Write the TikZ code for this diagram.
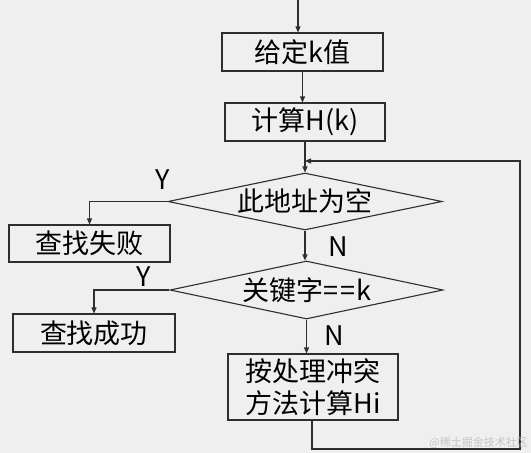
\documentclass[tikz,border=0pt]{standalone}
\usepackage{fontspec}
\setmainfont{Noto Sans CJK SC}
\usetikzlibrary{shapes.geometric,arrows.meta,calc}
\definecolor{bg}{HTML}{EFEFEF}
\definecolor{ln}{HTML}{2E2E2E}
\definecolor{wm}{HTML}{C4C4C4}
\tikzset{
  box/.style={draw=ln, line width=1.1pt, fill=bg, inner sep=0pt, align=center, font=\fontsize{27}{31}\selectfont},
  dec/.style={diamond, draw=ln, line width=1.1pt, inner sep=0pt, aspect=4.8, font=\fontsize{27}{31}\selectfont},
  conn/.style={draw=ln, line width=1.1pt},
  arr/.style={conn, -{Triangle[length=6pt,width=5pt]}},
  lab/.style={font=\fontsize{27}{31}\selectfont, inner sep=0pt},
}
\begin{document}
\begin{tikzpicture}[x=1pt,y=-1pt]
\fill[bg] (0,0) rectangle (531,453);
\useasboundingbox (0,0) rectangle (531,453);
\coordinate (start) at (298,0);
\node[box, minimum width=161pt, minimum height=38pt] (b1) at (302.5,52) {给定k值};
\node[box, minimum width=160pt, minimum height=38pt] (b2) at (305,122) {计算H(k)};
\node[dec, minimum width=274pt, minimum height=57pt] (d1) at (305,201.5) {此地址为空};
\node[box, minimum width=161pt, minimum height=37pt] (fail) at (89.5,243.5) {查找失败};
\node[dec, minimum width=273pt, minimum height=58pt] (d2) at (306.5,290) {关键字=\kern2pt=\kern1pt k};
\node[box, minimum width=162pt, minimum height=38pt] (succ) at (94,333) {查找成功};
\node[box, minimum width=170pt, minimum height=66pt, font=\fontsize{27}{32}\selectfont] (hi) at (313,387) {按处理冲突\\方法计算Hi};

\draw[arr] (start) -- (start |- b1.north);
\draw[arr] (b1.south) -- (b1.south |- b2.north);
\draw[arr] (b2.south) -- (d1.north);
\draw[arr] (d1.south) -- (d1.south |- d2.north);
\draw[arr] (d2.south) -- (d2.south |- hi.north);
\draw[arr] (d1.west) -| (fail.north);
\draw[arr] (d2.west) -| (succ.north);

\coordinate (h0) at (312,420);
\coordinate (h1) at (312,449);
\coordinate (h2) at (520,449);
\coordinate (h3) at (520,161);
\coordinate (h4) at (305,161);
\draw[arr] (h0) -- (h1) -- (h2) -- (h3) -- (h4);

\node[lab] (y1) at (163,180) {Y};
\node[lab] (n1) at (338,247) {N};
\node[lab] (y2) at (144,277) {Y};
\node[lab] (n2) at (334,336) {N};
\node[font=\fontsize{11}{13}\selectfont, text=wm, inner sep=0pt, anchor=east] (wmk) at (528,443) {@稀土掘金技术社区};
\end{tikzpicture}
\end{document}
